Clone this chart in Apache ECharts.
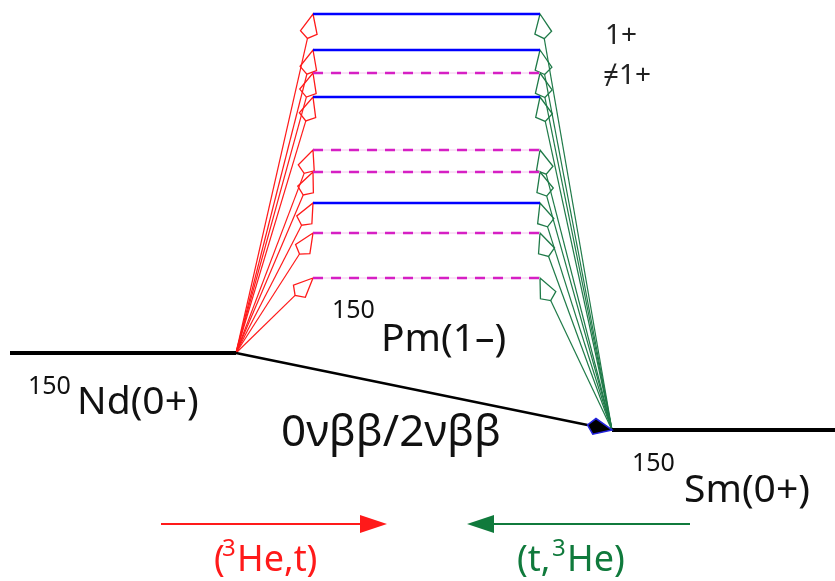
<!DOCTYPE html>
<html>
<head>
<meta charset="utf-8">
<script src="https://cdn.jsdelivr.net/npm/echarts@6/dist/echarts.min.js"></script>
<style>
  html, body { margin: 0; padding: 0; background: #fff; }
  #chart { width: 835px; height: 581px; }
</style>
</head>
<body>
<div id="chart"></div>
<script>
// excitation energies (arbitrary units, 150Sm ground state = 0)
const levelEnergy = [416, 380, 357, 333, 280, 258, 227, 197, 152]
// '1+' or '≠1+' for each intermediate 150Pm level
const levelSpin = ['1+', '1+', '≠1+', '1+', '≠1+', '≠1+', '1+', '≠1+', '≠1+']
const groundNames = ['Nd(0+)', 'Sm(0+)']
const groundEnergy = [77, 0]

// horizontal extent of each level group
const ND_X = [10, 236]
const PM_X = [313, 540]
const SM_X = [612, 835]

const FONT = '"Noto Sans", "DejaVu Sans", sans-serif'
const RED = '#ff1a1a'
const GREEN = '#1f7a48'
const BLUE = '#0000ff'
const MAGENTA = '#d61fc4'

// kite shaped arrow head, tip at "tip", pointing away from "from"
function kite (tip, from, len, shoulder, half) {
  const dx = tip[0] - from[0]
  const dy = tip[1] - from[1]
  const d = Math.hypot(dx, dy)
  const ux = dx / d, uy = dy / d
  const nx = -uy, ny = ux
  const tail = [tip[0] - ux * len, tip[1] - uy * len]
  return {
    tail,
    points: [
      tip,
      [tip[0] - ux * shoulder + nx * half, tip[1] - uy * shoulder + ny * half],
      tail,
      [tip[0] - ux * shoulder - nx * half, tip[1] - uy * shoulder - ny * half]
    ]
  }
}

function transitionItem (params, api) {
  const from = api.coord([api.value(0), api.value(1)])
  const tip = api.coord([api.value(2), api.value(3)])
  const k = kite(tip, from, 25, 19, 8.5)
  const color = api.visual('color')
  return {
    type: 'group',
    children: [
      { type: 'line', shape: { x1: from[0], y1: from[1], x2: k.tail[0], y2: k.tail[1] },
        style: { stroke: color, lineWidth: 1.2 } },
      { type: 'polygon', shape: { points: k.points },
        style: { fill: 'none', stroke: color, lineWidth: 1.3, lineJoin: 'miter' } }
    ]
  }
}

function decayItem (params, api) {
  const from = api.coord([api.value(0), api.value(1)])
  const tip = api.coord([api.value(2), api.value(3)])
  const k = kite(tip, from, 25, 18, 8)
  return {
    type: 'group',
    children: [
      { type: 'line', shape: { x1: from[0], y1: from[1], x2: k.tail[0], y2: k.tail[1] },
        style: { stroke: '#000', lineWidth: 2.5 } },
      { type: 'polygon', shape: { points: k.points },
        style: { fill: '#000', stroke: '#2222dd', lineWidth: 1.5 } }
    ]
  }
}

const series = []

// ground states
series.push({
  type: 'line', symbol: 'none', silent: true, z: 5,
  lineStyle: { color: '#000', width: 4 },
  data: [[ND_X[0], groundEnergy[0]], [ND_X[1], groundEnergy[0]]]
})
series.push({
  type: 'line', symbol: 'none', silent: true, z: 5,
  lineStyle: { color: '#000', width: 4 },
  data: [[SM_X[0], groundEnergy[1]], [SM_X[1], groundEnergy[1]]]
})

// intermediate levels
levelEnergy.forEach((e, i) => {
  const pts = [[PM_X[0], e], [PM_X[1], e]]
  if (levelSpin[i] === '1+') {
    series.push({ type: 'line', symbol: 'none', silent: true, z: 4,
      lineStyle: { color: BLUE, width: 2.5 }, data: pts })
  } else {
    series.push({ type: 'line', symbol: 'none', silent: true, z: 3,
      lineStyle: { color: '#f3c6ee', width: 1 }, data: pts })
    series.push({ type: 'line', symbol: 'none', silent: true, z: 4,
      lineStyle: { color: MAGENTA, width: 2.5, type: [10, 8] }, data: pts })
  }
})

// (3He,t) side: 150Nd -> 150Pm
series.push({
  type: 'custom', renderItem: transitionItem, silent: true, z: 2,
  itemStyle: { color: RED },
  encode: { x: [0, 2], y: [1, 3] },
  data: levelEnergy.map(e => [ND_X[1], groundEnergy[0], PM_X[0], e])
})
// (t,3He) side: 150Sm -> 150Pm
series.push({
  type: 'custom', renderItem: transitionItem, silent: true, z: 2,
  itemStyle: { color: GREEN },
  encode: { x: [0, 2], y: [1, 3] },
  data: levelEnergy.map(e => [SM_X[0], groundEnergy[1], PM_X[1], e])
})
// double beta decay
series.push({
  type: 'custom', renderItem: decayItem, silent: true, z: 6,
  encode: { x: [0, 2], y: [1, 3] },
  data: [[ND_X[1], groundEnergy[0], SM_X[0], groundEnergy[1]]]
})

function txt (x, y, text, size, color) {
  return {
    type: 'text', x, y, silent: true,
    style: { text, fontSize: size, fontFamily: FONT, fill: color || '#111',
      align: 'left', verticalAlign: 'middle' }
  }
}

function hArrow (x1, x2, y, color) {
  const dir = x2 > x1 ? 1 : -1
  const back = x2 - dir * 27
  return [
    { type: 'line', silent: true, shape: { x1, y1: y, x2: back, y2: y },
      style: { stroke: color, lineWidth: 2 } },
    { type: 'polygon', silent: true,
      shape: { points: [[x2, y], [back, y - 9], [back, y + 9]] },
      style: { fill: color } }
  ]
}

const graphic = [
  txt(605, 36, '1+', 28, '#222'),
  txt(603, 76, '≠1+', 28, '#222'),
  txt(28, 387, '150', 25),
  txt(77, 403, groundNames[0], 39),
  txt(332, 311, '150', 25),
  txt(381, 340, 'Pm(1–)', 39),
  txt(632, 464, '150', 25),
  txt(684, 491, groundNames[1], 39),
  txt(281, 433, '0νββ/2νββ', 44),
  ...hArrow(161, 387, 524, RED),
  ...hArrow(690, 467, 524, '#107a3c'),
  txt(214, 561, '(', 36, RED),
  txt(222, 549, '3', 24, RED),
  txt(237, 561, 'He,t)', 36, RED),
  txt(517, 561, '(t,', 36, '#107a3c'),
  txt(552, 549, '3', 24, '#107a3c'),
  txt(567, 561, 'He)', 36, '#107a3c')
]

const chart = echarts.init(document.getElementById('chart'))
chart.setOption({
  animation: false,
  backgroundColor: '#fff',
  grid: { left: 0, right: 0, top: 0, bottom: 0 },
  xAxis: { type: 'value', min: 0, max: 835, show: false },
  yAxis: { type: 'value', min: -151, max: 430, show: false },
  series,
  graphic
})
</script>
</body>
</html>
